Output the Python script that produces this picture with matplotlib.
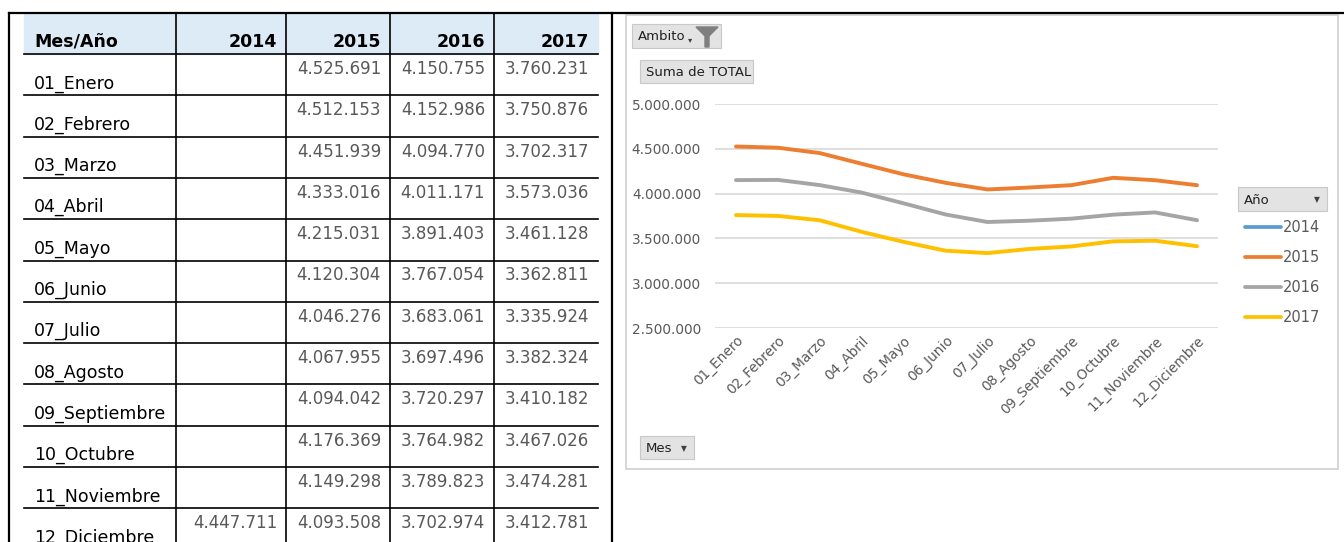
import matplotlib.pyplot as plt
from matplotlib.patches import Rectangle
from matplotlib.ticker import FuncFormatter

W, H = 1344, 542

meses = ['01_Enero', '02_Febrero', '03_Marzo', '04_Abril', '05_Mayo', '06_Junio',
         '07_Julio', '08_Agosto', '09_Septiembre', '10_Octubre', '11_Noviembre',
         '12_Diciembre']
anios = ['2014', '2015', '2016', '2017']

v2014 = [None] * 11 + [4447711]
v2015 = [4525691, 4512153, 4451939, 4333016, 4215031, 4120304,
         4046276, 4067955, 4094042, 4176369, 4149298, 4093508]
v2016 = [4150755, 4152986, 4094770, 4011171, 3891403, 3767054,
         3683061, 3697496, 3720297, 3764982, 3789823, 3702974]
v2017 = [3760231, 3750876, 3702317, 3573036, 3461128, 3362811,
         3335924, 3382324, 3410182, 3467026, 3474281, 3412781]

colores = ['#5B9BD5', '#ED7D31', '#A5A5A5', '#FFC000']
yticks = [2500000, 3000000, 3500000, 4000000, 4500000, 5000000]

FONT = 'DejaVu Sans'


def miles(v):
    # formato con punto de miles
    return f"{v:,.0f}".replace(',', '.')


fig = plt.figure(figsize=(W / 100, H / 100), dpi=100)
bg = fig.add_axes([0, 0, 1, 1])
bg.set_xlim(0, W)
bg.set_ylim(H, 0)
bg.axis('off')

# marco exterior
bg.plot([9, W], [13, 13], color='black', lw=1.6)
bg.plot([9, 9], [13, H], color='black', lw=1.6)
bg.plot([612, 612], [13, H], color='black', lw=1.6)

# tabla
cols = [24, 176, 286, 390, 494, 598]
row_h = 41.3
top = 13
head_bot = 54
bg.add_patch(Rectangle((24, top + 1), 598 - 24, head_bot - top - 1, color='#DDEBF7', zorder=0))
bg.text(34, 47, 'Mes/Año', fontsize=12.5, fontweight='bold', family=FONT,
        va='baseline', ha='left')
for j, a in enumerate(anios):
    bg.text(cols[j + 2] - 9, 47, a, fontsize=12.5, fontweight='bold', family=FONT,
            va='baseline', ha='right')

for c in cols[1:5]:
    bg.plot([c, c], [top, H], color='black', lw=1.2)
bg.plot([24, 598], [head_bot, head_bot], color='black', lw=1.2)

series = [v2014, v2015, v2016, v2017]
for i, m in enumerate(meses):
    y0 = head_bot + i * row_h
    y1 = y0 + row_h
    bg.plot([24, 598], [y1, y1], color='black', lw=1.2)
    bg.text(34, y1 - 7, m, fontsize=12.5, family=FONT, va='baseline', ha='left')
    for j, s in enumerate(series):
        if s[i] is not None:
            bg.text(cols[j + 2] - 9, y0 + 20, miles(s[i]), fontsize=12, color='#595959',
                    family=FONT, va='baseline', ha='right')

# caja del grafico dinamico
bg.add_patch(Rectangle((626, 15), 712, 454, fill=False, ec='#D0D0D0', lw=1.2))


def boton(x, y, w, h, txt, flecha=False):
    bg.add_patch(Rectangle((x, y), w, h, fc='#E3E3E3', ec='#C8C8C8', lw=0.8))
    bg.text(x + 6, y + h / 2 + 1, txt, fontsize=9.5, family=FONT, va='center', ha='left',
            color='#202020')
    if flecha:
        bg.text(x + w - 10, y + h / 2 + 1, '▼', fontsize=5.5, va='center', ha='center',
                color='#404040')


boton(632, 24, 89, 24, 'Ambito')
bg.text(690, 40, '▾', fontsize=6, va='center', ha='center', color='#404040')
bg.fill([696, 718, 709, 709, 705, 705], [27, 27, 36, 47, 47, 36], color='#7F7F7F')
boton(640, 60, 113, 23, 'Suma de TOTAL')
boton(640, 436, 54, 23, 'Mes', flecha=True)
boton(1238, 187, 89, 24, 'Año', flecha=True)

# leyenda
for k, a in enumerate(anios):
    yy = 227 + k * 30
    bg.plot([1245, 1281], [yy, yy], color=colores[k], lw=2.7, solid_capstyle='round')
    bg.text(1283, yy, a, fontsize=10.5, family=FONT, color='#595959', va='center', ha='left')

# grafico
ax = fig.add_axes([715 / W, (H - 328) / H, 503 / W, 224 / H])
x = list(range(len(meses)))
for s, c in zip(series, colores):
    ax.plot(x, [v if v is not None else float('nan') for v in s], color=c, lw=2.8,
            solid_capstyle='round', solid_joinstyle='round', zorder=3)
ax.set_xlim(-0.5, len(meses) - 0.5)
ax.set_ylim(2500000, 5000000)
ax.set_yticks(yticks)
ax.yaxis.set_major_formatter(FuncFormatter(lambda v, p: miles(v)))
ax.grid(axis='y', color='#D9D9D9', lw=1.2)
ax.set_axisbelow(True)
for sp in ax.spines.values():
    sp.set_visible(False)
ax.tick_params(length=0, labelsize=9.8, labelcolor='#595959')
ax.tick_params(axis='y', pad=10)
ax.tick_params(axis='x', pad=4)
ax.set_xticks(x)
ax.set_xticklabels(meses, rotation=45, ha='right', rotation_mode='anchor')

fig.savefig('out.png', dpi=100)
